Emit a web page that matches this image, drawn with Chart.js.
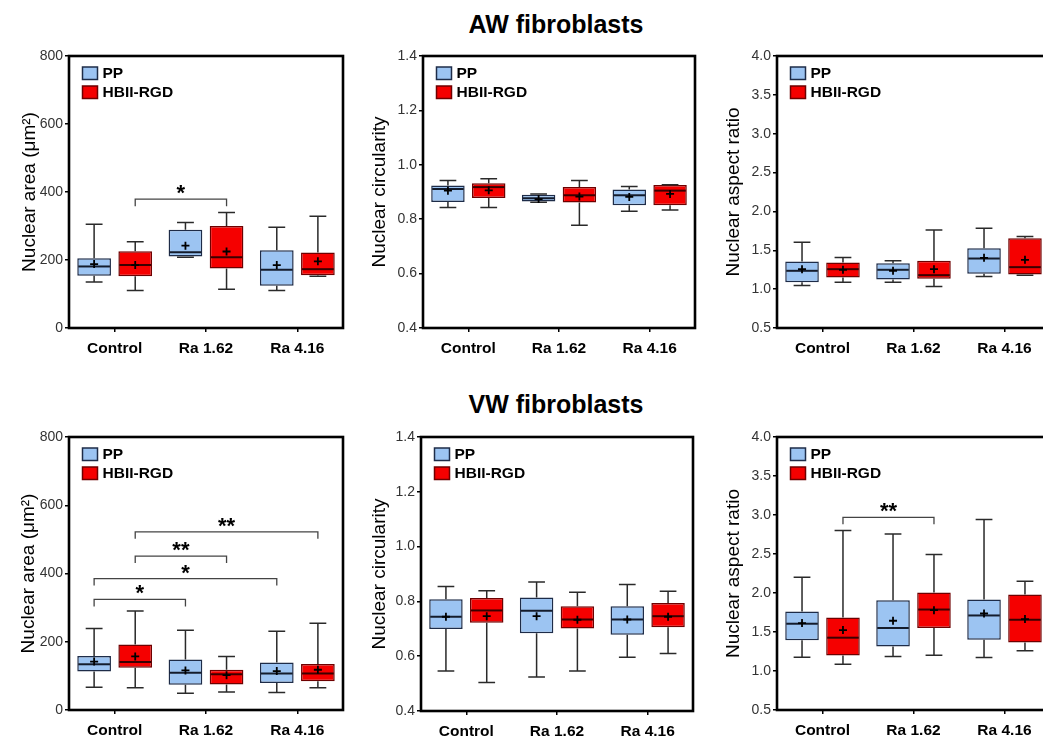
<!DOCTYPE html>
<html><head><meta charset="utf-8">
<script src="https://cdn.jsdelivr.net/npm/chart.js@4"></script>
<style>
html,body{margin:0;padding:0;overflow:hidden;background:#fff;width:1043px;height:737px;position:relative;}
.t{position:absolute;left:356px;width:400px;text-align:center;font:bold 25px 'Liberation Sans',Arial,sans-serif;line-height:25px;color:#000;white-space:nowrap;}
canvas{position:absolute;}
</style></head><body>
<div class="t" style="top:12px">AW fibroblasts</div>
<div class="t" style="top:392px">VW fibroblasts</div>
<script>
// ---------- DATA ----------
const categories = ['Control', 'Ra 1.62', 'Ra 4.16'];
const seriesNames = ['PP', 'HBII-RGD'];
// tick labels
const areaTicks = [0, 200, 400, 600, 800];
const circTicks = [0.4, 0.6, 0.8, 1.0, 1.2, 1.4];
const aspTicks = [0.5, 1.0, 1.5, 2.0, 2.5, 3.0, 3.5, 4.0];
// each entry: [min, q1, median, q3, max, mean]
const awAreaPP = [[135,154,181,205,305,188],[208,210,223,289,310,242],[110,124,171,229,296,185]];
const awAreaHB = [[110,152,185,226,254,185],[114,175,208,300,340,225],[152,155,173,222,329,196]];
const awCircPP = [[0.843,0.863,0.911,0.924,0.942,0.905],[0.862,0.865,0.877,0.890,0.893,0.874],[0.829,0.851,0.888,0.909,0.920,0.882]];
const awCircHB = [[0.843,0.878,0.918,0.932,0.949,0.906],[0.778,0.861,0.888,0.918,0.942,0.883],[0.834,0.851,0.905,0.926,0.927,0.893]];
const awAspPP = [[1.048,1.090,1.236,1.356,1.604,1.257],[1.090,1.125,1.249,1.334,1.364,1.236],[1.163,1.197,1.394,1.527,1.784,1.403]];
const awAspHB = [[1.090,1.150,1.257,1.343,1.407,1.249],[1.035,1.133,1.180,1.364,1.762,1.257],[1.180,1.189,1.283,1.655,1.677,1.377]];
const vwAreaPP = [[67,113,134,158,239,142],[49,74,109,148,234,116],[51,79,107,139,231,114]];
const vwAreaHB = [[65,124,141,192,290,157],[53,75,105,118,157,102],[65,84,107,135,254,118]];
const vwCircPP = [[0.546,0.699,0.744,0.808,0.854,0.744],[0.524,0.684,0.766,0.814,0.871,0.746],[0.596,0.678,0.734,0.782,0.862,0.734]];
const vwCircHB = [[0.504,0.722,0.767,0.812,0.839,0.746],[0.546,0.701,0.734,0.782,0.833,0.733],[0.610,0.706,0.746,0.794,0.837,0.744]];
const vwAspPP = [[1.176,1.393,1.606,1.763,2.201,1.614],[1.185,1.313,1.551,1.908,2.758,1.644],[1.172,1.402,1.712,1.916,2.941,1.737]];
const vwAspHB = [[1.087,1.198,1.427,1.686,2.801,1.525],[1.202,1.551,1.788,2.005,2.495,1.780],[1.261,1.364,1.657,1.980,2.150,1.666]];
// significance brackets: [fromCategory, toCategory, seriesIndex, yValue, label]
const awAreaSig = [[0,1,1,379,'*']];
const vwAreaSig = [[0,1,0,324,'*'],[0,2,0,385,'*'],[0,1,1,451,'**'],[0,2,1,522,'**']];
const vwAspSig = [[0,1,1,2.97,'**']];

// ---------- STYLE / LAYOUT ----------
const FONT = "'Liberation Sans', Arial, sans-serif";
const seriesStyle = [
  {fill:'#9cc4f2', border:'#1e2c48', median:'#141c2c', whisker:'#2a2a2a'},
  {fill:'#f50000', border:'#6e0000', median:'#3a0000', whisker:'#2a2a2a'}
];
const panels = [
  {area:[69,56,343,328], title:'Nuclear area (\u03bcm\u00b2)', titleX:29.5, ticks:areaTicks, dec:0, pp:awAreaPP, hb:awAreaHB, sig:awAreaSig},
  {area:[423,56,695,328], title:'Nuclear circularity', titleX:380, ticks:circTicks, dec:1, pp:awCircPP, hb:awCircHB, sig:[]},
  {area:[777,56,1050,328], title:'Nuclear aspect ratio', titleX:734, ticks:aspTicks, dec:1, pp:awAspPP, hb:awAspHB, sig:[]},
  {area:[69,437,343,710], title:'Nuclear area (\u03bcm\u00b2)', titleX:29, ticks:areaTicks, dec:0, pp:vwAreaPP, hb:vwAreaHB, sig:vwAreaSig},
  {area:[421,437,693,711], title:'Nuclear circularity', titleX:380, ticks:circTicks, dec:1, pp:vwCircPP, hb:vwCircHB, sig:[]},
  {area:[777,437,1050,710], title:'Nuclear aspect ratio', titleX:734, ticks:aspTicks, dec:1, pp:vwAspPP, hb:vwAspHB, sig:vwAspSig}
];

const YW = 70, XH = 45, PT = 20, PR = 10;

const boxPlugin = {
  id: 'boxExtras',
  afterDatasetsDraw(chart) {
    const ctx = chart.ctx, ys = chart.scales.y;
    chart.data.datasets.forEach((ds, di) => {
      const meta = chart.getDatasetMeta(di);
      const st = seriesStyle[di];
      meta.data.forEach((bar, i) => {
        const s = ds.stats[i];
        const x = bar.x, w = bar.width;
        const p = s.map(v => ys.getPixelForValue(v));
        ctx.save();
        ctx.strokeStyle = st.whisker; ctx.lineWidth = 1.5;
        ctx.beginPath();
        ctx.moveTo(x, p[3]); ctx.lineTo(x, p[4]);
        ctx.moveTo(x - w/4, p[4]); ctx.lineTo(x + w/4, p[4]);
        ctx.moveTo(x, p[1]); ctx.lineTo(x, p[0]);
        ctx.moveTo(x - w/4, p[0]); ctx.lineTo(x + w/4, p[0]);
        ctx.stroke();
        ctx.strokeStyle = st.median; ctx.lineWidth = 2;
        ctx.beginPath(); ctx.moveTo(x - w/2 + 1, p[2]); ctx.lineTo(x + w/2 - 1, p[2]); ctx.stroke();
        ctx.strokeStyle = '#000'; ctx.lineWidth = 1.8;
        ctx.beginPath();
        ctx.moveTo(x - 4, p[5]); ctx.lineTo(x + 4, p[5]);
        ctx.moveTo(x, p[5] - 4); ctx.lineTo(x, p[5] + 4);
        ctx.stroke();
        ctx.restore();
      });
    });
    // significance brackets
    const sig = chart.options.plugins.boxExtras.sig || [];
    sig.forEach(([c0, c1, si, yv, label]) => {
      const meta = chart.getDatasetMeta(si);
      const x0 = meta.data[c0].x, x1 = meta.data[c1].x;
      const yp = ys.getPixelForValue(yv);
      ctx.save();
      ctx.strokeStyle = '#444'; ctx.lineWidth = 1.3;
      ctx.beginPath();
      ctx.moveTo(x0, yp + 7); ctx.lineTo(x0, yp); ctx.lineTo(x1, yp); ctx.lineTo(x1, yp + 7);
      ctx.stroke();
      ctx.fillStyle = '#000'; ctx.font = 'bold 22px ' + FONT;
      ctx.textAlign = 'center'; ctx.textBaseline = 'alphabetic';
      ctx.fillText(label, (x0 + x1) / 2, yp + 1);
      ctx.restore();
    });
  },
  afterDraw(chart) {
    const ctx = chart.ctx, a = chart.chartArea;
    ctx.save();
    ctx.strokeStyle = '#000'; ctx.lineWidth = 2.6;
    ctx.strokeRect(a.left, a.top, a.right - a.left, a.bottom - a.top);
    // legend
    chart.data.datasets.forEach((ds, di) => {
      const st = seriesStyle[di];
      const bx = a.left + 13.5, by = a.top + 11 + di * 19;
      ctx.fillStyle = st.fill; ctx.fillRect(bx, by, 15, 12.5);
      ctx.strokeStyle = st.border; ctx.lineWidth = 1.5; ctx.strokeRect(bx, by, 15, 12.5);
      ctx.fillStyle = '#000'; ctx.font = 'bold 15.5px ' + FONT;
      ctx.textAlign = 'left'; ctx.textBaseline = 'middle';
      ctx.fillText(ds.label, a.left + 33.5, by + 6.8);
    });
    ctx.restore();
  }
};

panels.forEach((pn, k) => {
  const [l, t, r, b] = pn.area;
  const cv = document.createElement('canvas');
  const cl = l - YW, ct = t - PT;
  const W = (r - l) + YW + PR, H = (b - t) + PT + XH;
  cv.width = W; cv.height = H;
  cv.style.left = cl + 'px'; cv.style.top = ct + 'px';
  cv.style.width = W + 'px'; cv.style.height = H + 'px';
  document.body.appendChild(cv);
  const lh = 19 * 1.2;
  const mk = (arr, si) => ({
    label: seriesNames[si],
    data: arr.map(s => [s[1], s[3]]),
    stats: arr,
    backgroundColor: seriesStyle[si].fill,
    borderColor: seriesStyle[si].border,
    borderWidth: 1.5,
    borderSkipped: false,
    categoryPercentage: 0.9,
    barPercentage: 0.82
  });
  new Chart(cv, {
    type: 'bar',
    data: { labels: categories, datasets: [mk(pn.pp, 0), mk(pn.hb, 1)] },
    plugins: [boxPlugin],
    options: {
      responsive: false,
      animation: false,
      events: [],
      layout: { padding: { left: 0, top: PT, right: PR, bottom: 0 } },
      plugins: {
        legend: { display: false },
        tooltip: { enabled: false },
        boxExtras: { sig: pn.sig }
      },
      scales: {
        x: {
          type: 'category',
          offset: true,
          grid: { display: true, drawOnChartArea: false, drawTicks: true, tickLength: 4, offset: false, color: '#000', lineWidth: 1.5 },
          border: { display: false },
          ticks: { color: '#000', font: { family: FONT, size: 15.5, weight: 'bold' }, padding: 7, maxRotation: 0 },
          afterFit: s => { s.height = XH; }
        },
        y: {
          min: pn.ticks[0], max: pn.ticks[pn.ticks.length - 1],
          afterBuildTicks: s => { s.ticks = pn.ticks.map(v => ({ value: v })); },
          grid: { display: true, drawOnChartArea: false, drawTicks: true, tickLength: 4, color: '#000', lineWidth: 1.5 },
          border: { display: false },
          ticks: { color: '#333', font: { family: FONT, size: 14 }, padding: 2,
                    callback: v => Number(v).toFixed(pn.dec) },
          title: { display: true, text: pn.title, color: '#000', font: { family: FONT, size: 19 },
                   padding: { top: pn.titleX - cl - lh / 2, bottom: 0 } },
          afterFit: s => { s.width = YW; }
        }
      }
    }
  });
});
</script>
</body></html>
